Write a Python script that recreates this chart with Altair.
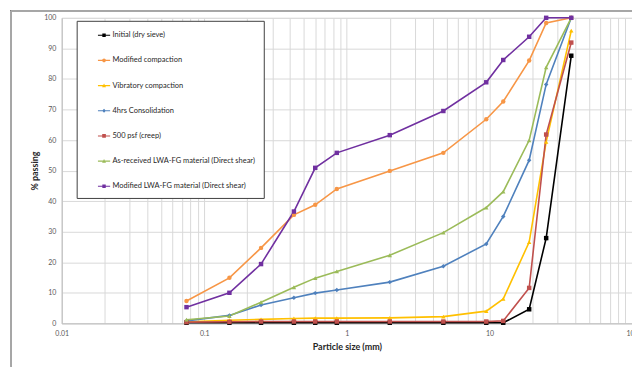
import altair as alt
import pandas as pd

sizes = [0.075, 0.15, 0.25, 0.425, 0.6, 0.85, 2.0, 4.75, 9.5, 12.5, 19, 25, 37.5]

series_names = [
    "Initial (dry sieve)",
    "Modified compaction",
    "Vibratory compaction",
    "4hrs Consolidation",
    "500 psf (creep)",
    "As-received LWA-FG material (Direct shear)",
    "Modified LWA-FG material (Direct shear)",
]

initial_dry = [0.2, 0.2, 0.2, 0.2, 0.2, 0.2, 0.2, 0.2, 0.2, 0.2, 4.6, 27.9, 87.6]
modified_compaction = [7.3, 14.9, 24.7, 35.5, 38.8, 44.0, 49.9, 55.8, 66.8, 72.6, 86.0, 98.3, 100]
vibratory_compaction = [0.5, 1.0, 1.3, 1.6, 1.7, 1.7, 1.8, 2.2, 4.0, 8.0, 26.6, 59.4, 95.8]
consolidation_4hrs = [0.8, 2.6, 6.0, 8.4, 9.9, 10.9, 13.5, 18.7, 26.0, 35.0, 53.4, 78.2, 100]
creep_500psf = [0.4, 0.5, 0.6, 0.6, 0.6, 0.6, 0.6, 0.6, 0.6, 0.8, 11.6, 61.8, 91.9]
as_received = [1.2, 2.4, 6.9, 11.8, 14.8, 17.0, 22.3, 29.7, 37.9, 43.1, 59.9, 83.8, 100]
modified_lwa = [5.3, 10.0, 19.4, 36.6, 50.9, 55.8, 61.6, 69.5, 78.9, 86.2, 93.8, 100, 100]

series_values = [initial_dry, modified_compaction, vibratory_compaction,
                 consolidation_4hrs, creep_500psf, as_received, modified_lwa]

colors = ["#000000", "#F79646", "#FFC000", "#4F81BD", "#C0504D", "#9BBB59", "#7030A0"]
shapes = ["square", "circle", "triangle-up", "diamond", "square", "triangle-up", "square"]

# legend symbols: a short line with a small marker on it
bar = "M-1,-0.09H1V0.09H-1Z"
legend_shapes = [
    bar + "M-0.28,-0.28H0.28V0.28H-0.28Z",
    bar + "M0.3,0A0.3,0.3 0 1,1 -0.3,0A0.3,0.3 0 1,1 0.3,0Z",
    bar + "M0,-0.34L0.32,0.26H-0.32Z",
    bar + "M0,-0.34L0.3,0L0,0.34L-0.3,0Z",
    bar + "M-0.3,-0.3H0.3V0.3H-0.3Z",
    bar + "M0,-0.34L0.32,0.26H-0.32Z",
    bar + "M-0.28,-0.28H0.28V0.28H-0.28Z",
]

x_ticks = [m * 10.0 ** e for e in range(-2, 2) for m in range(1, 10)] + [100.0]
y_ticks = list(range(0, 101, 10))

rows = []
for i, (name, vals) in enumerate(zip(series_names, series_values)):
    for s, v in zip(sizes, vals):
        rows.append({"series": name, "order": i, "size": s, "passing": v})
df = pd.DataFrame(rows)

FONT = "Lato"

x_enc = alt.X("size:Q",
              scale=alt.Scale(type="log", domain=[0.01, 100], nice=False),
              axis=alt.Axis(values=x_ticks, title="Particle size (mm)",
                            labelExpr="abs(log(datum.value)/LN10 - round(log(datum.value)/LN10)) < 1e-6 ? format(datum.value, '~g') : ''",
                            grid=True, gridColor="#d9d9d9", ticks=False, labelOverlap=False,
                            domainColor="#bfbfbf", labelFontSize=7, labelColor="#595959",
                            labelPadding=6, titleFontSize=9, titleFontWeight="bold",
                            titleColor="#262626", titlePadding=6, labelFont=FONT, titleFont=FONT,
                            labelFlush=False))
y_enc = alt.Y("passing:Q",
              scale=alt.Scale(domain=[0, 100], nice=False),
              axis=alt.Axis(values=y_ticks, title="% passing", grid=True, gridColor="#d9d9d9",
                            ticks=False, domainColor="#bfbfbf", labelFontSize=7,
                            labelOverlap=False, labelFlush=False,
                            labelColor="#595959", labelPadding=6, titleFontSize=9,
                            titleFontWeight="bold", titleColor="#262626", titlePadding=4,
                            labelFont=FONT, titleFont=FONT))

color_scale = alt.Scale(domain=series_names, range=colors)

base = alt.Chart(df)

lines = base.mark_line(strokeWidth=1.6).encode(
    x=x_enc, y=y_enc,
    color=alt.Color("series:N", scale=color_scale, legend=None),
    order="size:Q",
    detail="series:N",
)

points = base.mark_point(filled=True, size=20, opacity=1).encode(
    x=x_enc, y=y_enc,
    color=alt.Color("series:N", scale=color_scale, legend=None),
    shape=alt.Shape("series:N", scale=alt.Scale(domain=series_names, range=shapes), legend=None),
)

legend_layer = base.transform_filter("false").mark_point(filled=True, size=150, opacity=1).encode(
    x=x_enc, y=y_enc,
    color=alt.Color("series:N", scale=color_scale,
                    legend=alt.Legend(title=None, orient="none", legendX=15, legendY=3,
                                      fillColor="white", strokeColor="#404040",
                                      padding=8, symbolOffset=13, rowPadding=15.3,
                                      labelFontSize=7.5, labelFont=FONT, labelColor="#262626",
                                      labelOffset=2, symbolSize=150, symbolStrokeWidth=0,
                                      labelLimit=400)),
    shape=alt.Shape("series:N", scale=alt.Scale(domain=series_names, range=legend_shapes)),
)

frame_left = alt.Chart(df).mark_rule(color="#a6a6a6", strokeWidth=1, clip=False).encode(
    x=alt.value(-51), y=alt.value(-7), y2=alt.value(350))
frame_top = alt.Chart(df).mark_rule(color="#a6a6a6", strokeWidth=1, clip=False).encode(
    x=alt.value(-51), x2=alt.value(573), y=alt.value(-7))

chart = alt.layer(frame_left, frame_top, lines, points, legend_layer).resolve_scale(
    color="independent", shape="independent"
).properties(
    width=573, height=307,
    autosize=alt.AutoSizeParams(type="none"),
    padding={"left": 54, "top": 9, "right": 0, "bottom": 45},
).configure_view(stroke=None).configure(background="white")

chart.save("out.html", embed_options={"renderer": "svg", "actions": False})
